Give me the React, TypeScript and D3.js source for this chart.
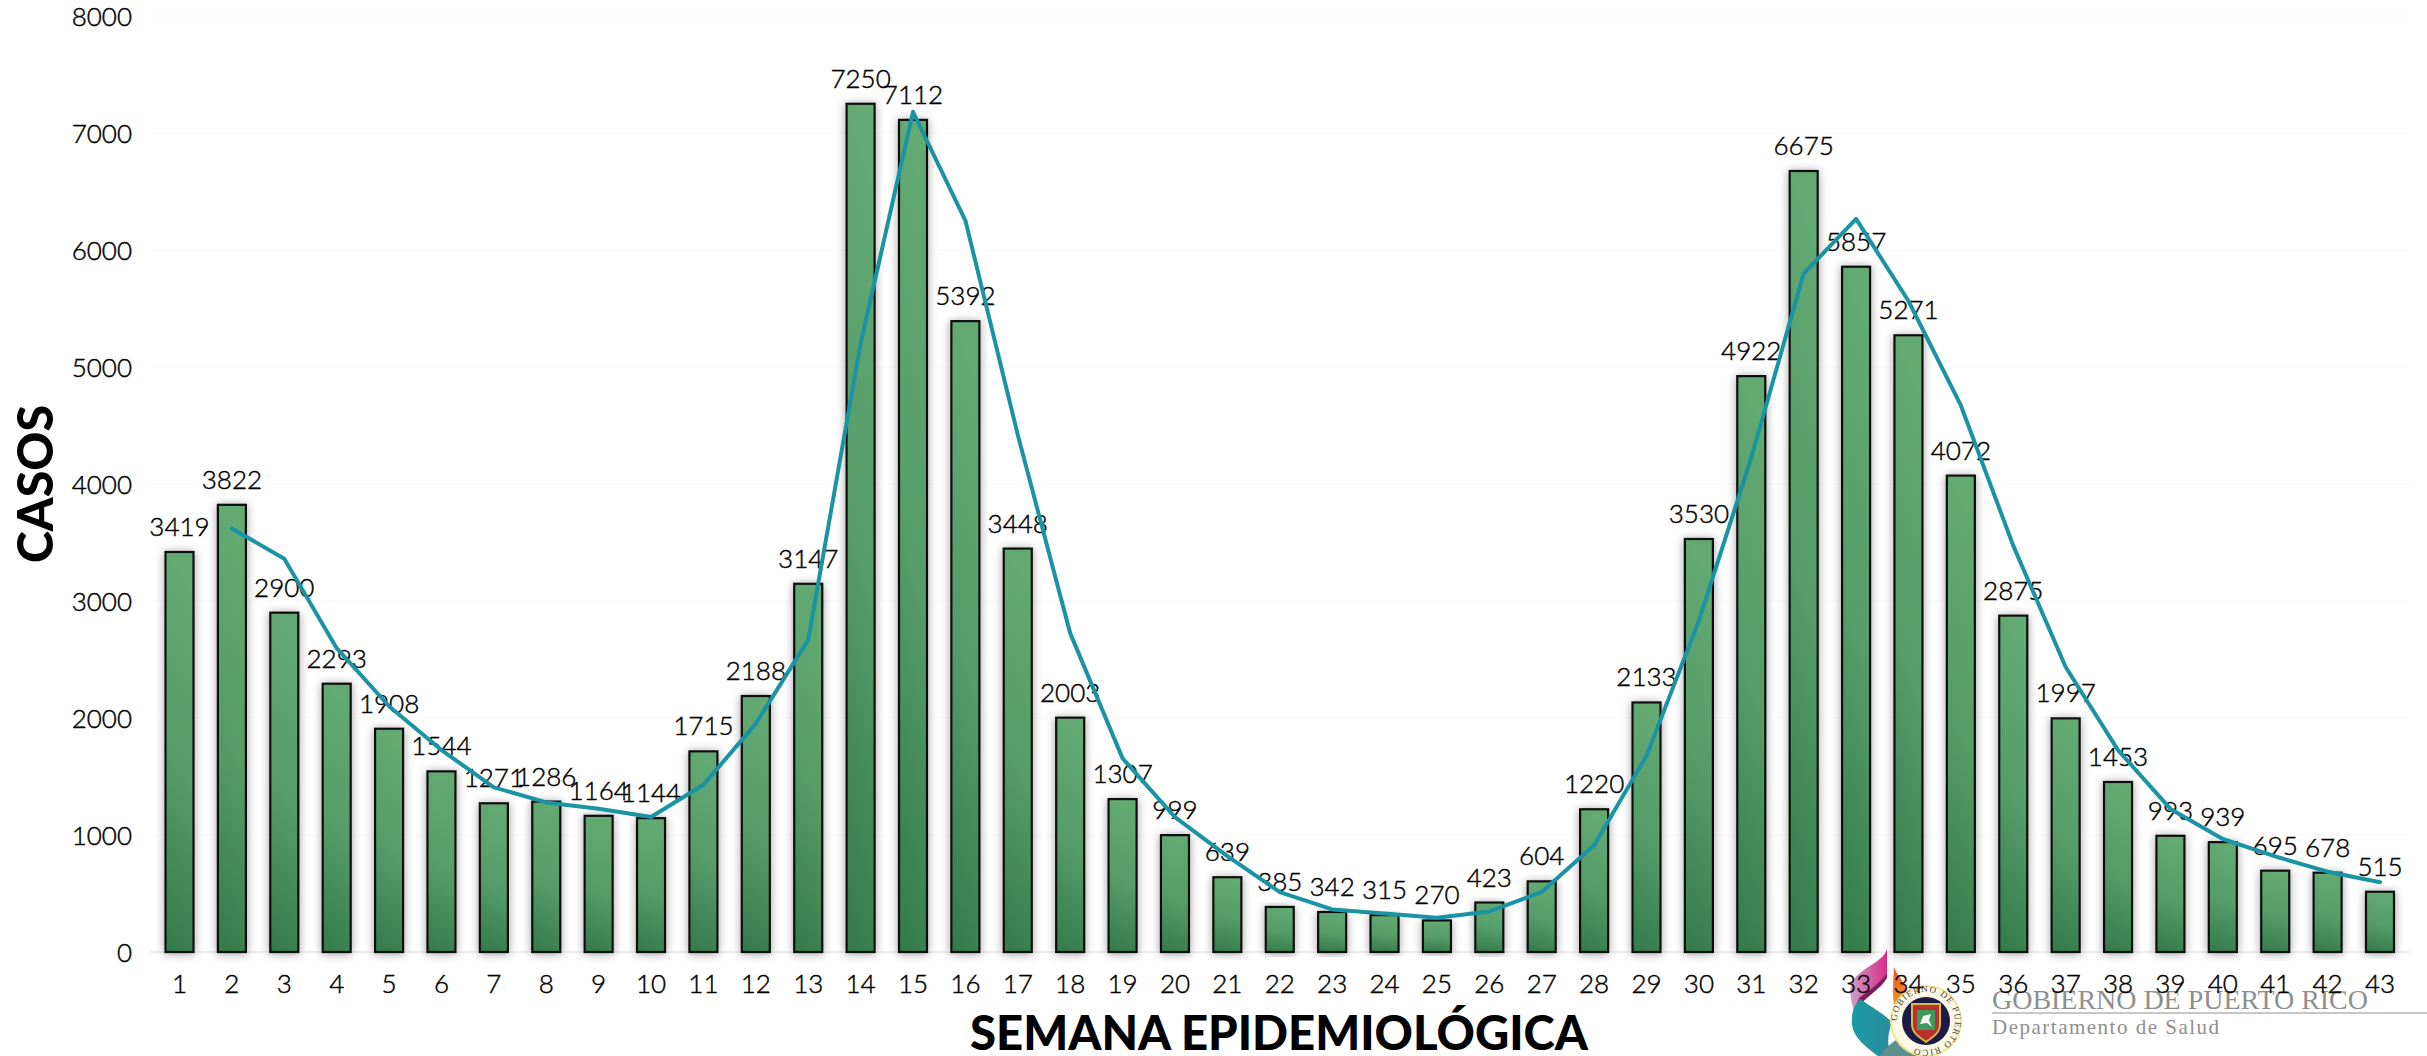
import React from "react";
import * as d3 from "d3";

const weeks = d3.range(1, 44);
const cases = [3419,3822,2900,2293,1908,1544,1271,1286,1164,1144,1715,2188,3147,7250,7112,5392,3448,2003,1307,999,639,385,342,315,270,423,604,1220,2133,3530,4922,6675,5857,5271,4072,2875,1997,1453,993,939,695,678,515];
const labels = cases.map(String);
const trendWeeks = d3.range(2, 44);
const trend = [3620.5,3361,2596.5,2100.5,1726,1407.5,1278.5,1225,1154,1429.5,1951.5,2667.5,5198.5,7181,6252,4420,2725.5,1655,1153,819,512,363.5,328.5,292.5,346.5,513.5,912,1676.5,2831.5,4226,5798.5,6266,5564,4671.5,3473.5,2436,1725,1223,966,817,686.5,596.5];
const yTicks = [0,1000,2000,3000,4000,5000,6000,7000,8000];

const FONT = "Lato, 'Open Sans', sans-serif";

export default function App() {
  const x = d3.scaleLinear().domain([1, 43]).range([179.5, 2380]);
  const y = d3.scaleLinear().domain([0, 8000]).range([952, 16]);
  const barW = 28;
  const line = d3.line<number>().x((_, i) => x(trendWeeks[i])).y(d => y(d));
  return (
    <svg width={2427} height={1056} style={{ position: "absolute", left: 0, top: 0, display: "block", background: "#fff" }}>
      <defs>
        <linearGradient id="bar" x1="0.1" y1="0" x2="0" y2="1">
          <stop offset="0" stopColor="#62a972" />
          <stop offset="0.5" stopColor="#559c69" />
          <stop offset="1" stopColor="#337a4a" />
        </linearGradient>
        <filter id="shadow" x="-60%" y="-10%" width="220%" height="120%">
          <feDropShadow dx="0" dy="1" stdDeviation="5" floodColor="#000" floodOpacity="0.38" />
        </filter>
        <linearGradient id="pink" x1="0" y1="0" x2="1" y2="0">
          <stop offset="0" stopColor="#c9a0c8" />
          <stop offset="1" stopColor="#d92b83" />
        </linearGradient>
        <linearGradient id="orange" x1="0" y1="0" x2="0" y2="1">
          <stop offset="0" stopColor="#e8552a" />
          <stop offset="1" stopColor="#f19a1f" />
        </linearGradient>
        <linearGradient id="teal" x1="0" y1="0" x2="1" y2="0">
          <stop offset="0" stopColor="#1a9ba6" />
          <stop offset="1" stopColor="#2a8c9c" />
        </linearGradient>
      </defs>

      <g>
        {yTicks.map(t => (
          <line key={t} x1={150} x2={2410} y1={y(t)} y2={y(t)} stroke={t === 0 ? "#e8e8e8" : "#fbfbfb"} strokeWidth={1.5} />
        ))}
      </g>

      <g fontFamily={FONT} fontSize={26} fontWeight={300} fill="#000" stroke="#000" strokeWidth={0.45}>
        {yTicks.map(t => (
          <text key={t} x={132} y={y(t) - 0.5} textAnchor="end" dominantBaseline="central">{t}</text>
        ))}
      </g>

      <g>
        {cases.map((c, i) => (
          <rect key={i} x={x(weeks[i]) - barW / 2} y={y(c)} width={barW} height={y(0) - y(c)}
            fill="url(#bar)" stroke="#111" strokeWidth={2.2} filter="url(#shadow)" />
        ))}
      </g>

      {/* logo */}
      <g>
        <path d="M1887 948 C1885 962 1862 966 1852 982 C1848 992 1852 1002 1854 1012 L1858 1000 C1868 988 1888 984 1887 972 Z" fill="url(#pink)" />
        <path d="M1853 1012 L1859 998 C1870 990 1878 984 1887 974 L1887 978 C1880 990 1866 996 1853 1012 Z" fill="#7c1d5c" />
        <path d="M1894 967 C1897 977 1906 981 1906 992 C1900 997 1896 1002 1895 1008 C1892 1000 1893 985 1894 967 Z" fill="url(#orange)" />
        <path d="M1860 999 C1870 1006 1884 1014 1892 1022 C1888 1034 1886 1044 1892 1056 L1878 1056 C1862 1044 1850 1034 1852 1018 C1852 1010 1856 1004 1860 999 Z" fill="url(#teal)" />
        <path d="M1880 1056 C1884 1050 1890 1044 1896 1040 L1926 1056 Z" fill="#5f8f8c" />
        <circle cx={1926} cy={1021} r={36} fill="#f3e48f" />
        <circle cx={1926} cy={1021} r={34} fill="#fbf8e6" />
        <circle cx={1926} cy={1021} r={24} fill="#1b1b45" />
        <path d="M1912 1004 H1940 V1024 C1940 1034 1931 1038 1926 1042 C1921 1038 1912 1034 1912 1024 Z" fill="#b8322c" stroke="#d9b648" strokeWidth={2} />
        <rect x={1917} y={1010} width={18} height={20} fill="#3e9a5b" />
        <path d="M1920 1024 L1923 1016 L1931 1014 L1929 1020 L1932 1027 L1927 1023 Z" fill="#f4f4f4" />
        <path id="sealArc" d="M1897 1021 A29 29 0 0 1 1955 1021 A29 29 0 0 1 1897 1021" fill="none" />
        <text fontFamily="'Liberation Serif', serif" fontSize={9} fill="#444" letterSpacing={1.2}>
          <textPath href="#sealArc">GOBIERNO DE PUERTO RICO</textPath>
        </text>
        <text x={1992} y={1009} fontFamily="'Liberation Serif', serif" fontSize={28} fill="#8f8f8f" textLength={376} lengthAdjust="spacing">GOBIERNO DE PUERTO RICO</text>
        <line x1={1992} x2={2427} y1={1013} y2={1013} stroke="#b5b5b5" strokeWidth={1.5} />
        <text x={1992} y={1034} fontFamily="'Liberation Serif', serif" fontSize={21} fill="#8f8f8f" letterSpacing={1.5}>Departamento de Salud</text>
      </g>

      <g fontFamily={FONT} fontSize={26} fontWeight={300} fill="#000" stroke="#000" strokeWidth={0.45}>
        {weeks.map(w => (
          <text key={w} x={x(w)} y={983} textAnchor="middle" dominantBaseline="central">{w}</text>
        ))}
        {cases.map((c, i) => (
          <text key={i} x={x(weeks[i])} y={y(c) - 26} textAnchor="middle" dominantBaseline="central">{labels[i]}</text>
        ))}
      </g>

      <path d={line(trend) as string} fill="none" stroke="#1a94a4" strokeWidth={4} strokeLinejoin="round" strokeLinecap="round" />

      <text transform="translate(53,484) rotate(-90)" textAnchor="middle" fontFamily={FONT} fontWeight={900} fontSize={50} textLength={158} lengthAdjust="spacingAndGlyphs" fill="#000">CASOS</text>
      <text x={1279} y={1050} textAnchor="middle" fontFamily={FONT} fontWeight={900} fontSize={47} textLength={618} lengthAdjust="spacingAndGlyphs" fill="#000">SEMANA EPIDEMIOLÓGICA</text>
    </svg>
  );
}
